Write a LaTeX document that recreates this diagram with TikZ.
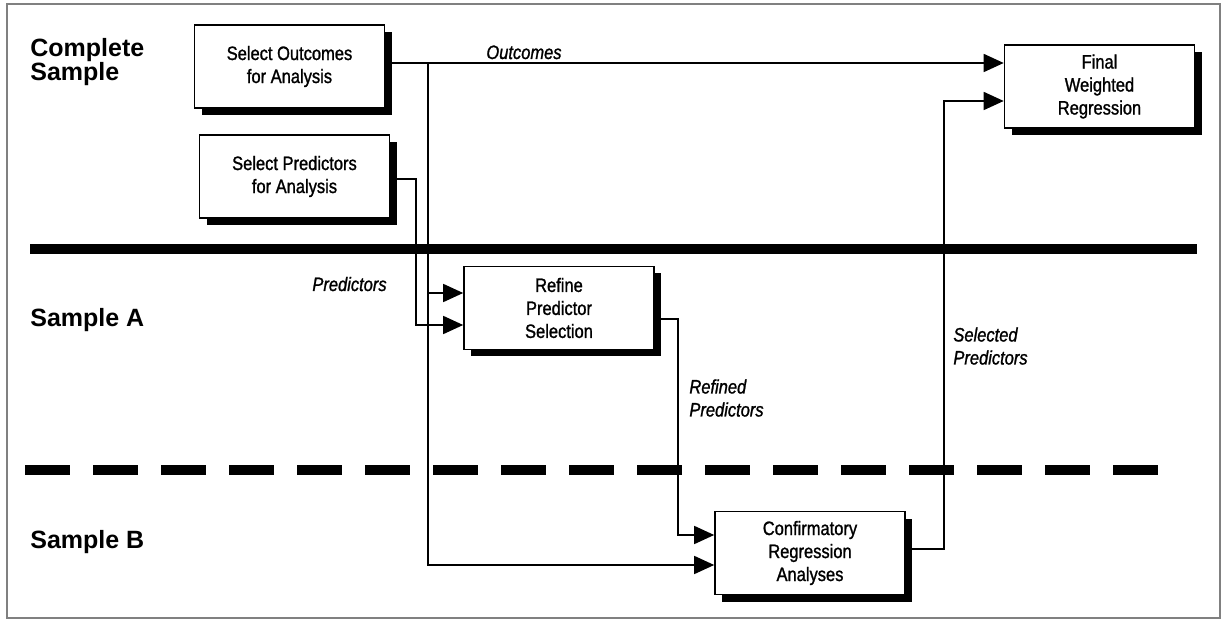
\documentclass[tikz,border=0pt]{standalone}
\usepackage{fontspec}
\setmainfont{Liberation Sans}
\newfontfamily\narrowfont[FakeStretch=0.85, FakeBold=1.2]{Liberation Sans}
\usetikzlibrary{shadows, arrows.meta, positioning}

\begin{document}
\begin{tikzpicture}[x=0.5pt, y=-0.5pt,
              box/.style = {shape=rectangle, draw, line width=0.8pt,
                fill=white, align=center, inner sep=0pt,
                minimum width=95pt, minimum height=41.5pt,
                font=\narrowfont\fontsize{9.7}{11.5}\selectfont,
                drop shadow={shadow xshift=3.5pt, shadow yshift=-3.5pt,
                  opacity=1, fill=black}},
              conn/.style = {line width=0.8pt,
                -{Triangle[length=10pt, width=9pt]}},
              lbl/.style = {inner sep=0pt, align=left,
                font=\narrowfont\itshape\fontsize{9.7}{11.5}\selectfont},
              sample/.style = {inner sep=0pt, align=left,
                font=\bfseries\fontsize{12.5}{12}\selectfont}]
  \useasboundingbox (0,0) rectangle (1222,620);
  \draw[gray, line width=0.75pt] (7,4) rectangle (1220,618);

  % sample bands
  \node[sample, anchor=north west] (complete) at (30,38) {Complete\\Sample};
  \node[sample, anchor=base west] (sampleA) at (30,327) {Sample A};
  \node[sample, anchor=base west] (sampleB) at (30,548) {Sample B};
  \draw[line width=5pt] (30,249) -- (1197,249);
  \draw[line width=5pt, dash pattern=on 22.5pt off 11.5pt] (25,470) -- (1174,470);

  % steps
  \node[box] (outcomes) at (289.5,66.5) {Select Outcomes\\for Analysis};
  \node[box] (predictors) at (294.5,176.5) {Select Predictors\\for Analysis};
  \node[box] (refine) at (559,308) {Refine\\Predictor\\Selection};
  \node[box] (confirm) at (810,553) {Confirmatory\\Regression\\Analyses};
  \node[box] (final) at (1099.5,86.5) {Final\\Weighted\\Regression};

  % connectors
  \coordinate (split) at (428,63);
  \draw[conn] (outcomes.east |- 0,63) -- (final.west |- 0,63);
  \draw[conn] (split) |- (refine.west |- 0,293);
  \draw[conn] (split) |- (confirm.west |- 0,565);
  \draw[conn] (predictors.east |- 0,179) -- (416,179) |- (refine.west |- 0,325);
  \draw[conn] (refine.east |- 0,319) -- (678,319) |- (confirm.west |- 0,535);
  \draw[conn] (confirm.east |- 0,549) -- (944,549) |- (final.west |- 0,101);

  % labels
  \node[lbl, anchor=base west] (lblOut) at (486,59) {Outcomes};
  \node[lbl, anchor=base west] (lblPred) at (312,291) {Predictors};
  \node[lbl, anchor=north west] (lblRef) at (689,379) {Refined\\Predictors};
  \node[lbl, anchor=north west] (lblSel) at (953,327) {Selected\\Predictors};
\end{tikzpicture}
\end{document}
